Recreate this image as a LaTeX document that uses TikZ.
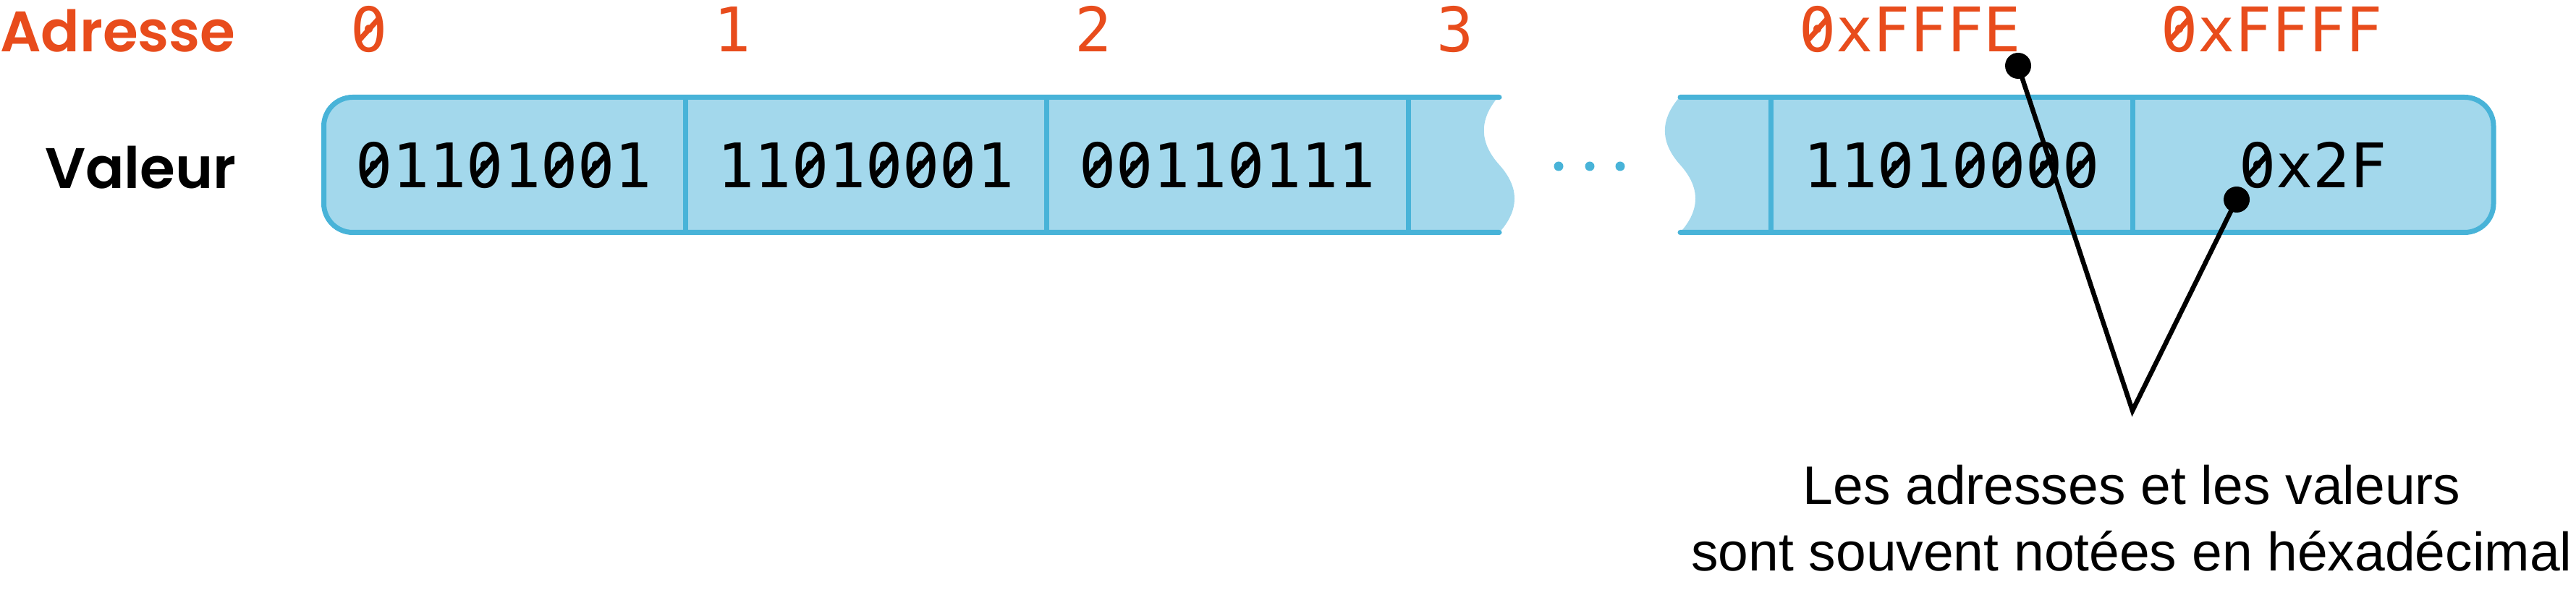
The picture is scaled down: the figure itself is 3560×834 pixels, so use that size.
\documentclass[tikz,border=0pt]{standalone}
\usepackage{graphicx}
\usepackage{fontspec}
\setmainfont{Liberation Sans}
\newfontfamily\popfont{Poppins SemiBold}
\newfontfamily\monofont{DejaVu Sans Mono}
\definecolor{orng}{RGB}{232,76,28}
\definecolor{cellfill}{RGB}{163,216,236}
\definecolor{cellline}{RGB}{72,179,216}
% slashed zero
\newcommand\zs{\ooalign{0\cr\hidewidth\raisebox{0.15em}{\rotatebox{48}{\rule{0.5em}{0.085em}}}\hidewidth\cr}}
\begin{document}
\begin{tikzpicture}[x=0.2pt,y=-0.2pt,
  addr/.style={anchor=base west, inner sep=0pt, text=orng, font=\monofont\fontsize{17}{20}\selectfont},
  val/.style={anchor=base, inner sep=0pt, font=\monofont\fontsize{17}{20}\selectfont},
  head/.style={anchor=base west, inner sep=0pt, font=\popfont\fontsize{15.8}{19}\selectfont},
  cellstroke/.style={draw=cellline, line width=1.4pt, line cap=round},
  dotnode/.style={circle, fill=black, inner sep=0pt, minimum size=7.2pt},
  leader/.style={draw=black, line width=1.3pt},
  caption/.style={anchor=base, inner sep=0pt, font=\fontsize{15}{18}\selectfont},
  ellip/.style={circle, fill=cellline, inner sep=0pt, minimum size=2.6pt}]
\useasboundingbox (0,0) rectangle (3560,834);
% left piece fill
\fill[cellfill] (2070,134.5) -- (487.5,134.5) .. controls (465.4,134.5) and (447.5,152.4) .. (447.5,174.5)
  -- (447.5,281.5) .. controls (447.5,303.6) and (465.4,321.5) .. (487.5,321.5) -- (2072,321.5)
  .. controls (2100,290.3) and (2100,259.2) .. (2072,228)
  .. controls (2044,196.8) and (2044,165.7) .. (2070,134.5) -- cycle;
% right piece fill
\fill[cellfill] (2321,134.5) -- (3406,134.5) .. controls (3428.1,134.5) and (3446,152.4) .. (3446,174.5)
  -- (3446,281.5) .. controls (3446,303.6) and (3428.1,321.5) .. (3406,321.5) -- (2322,321.5)
  .. controls (2350,290.3) and (2350,259.2) .. (2322,228)
  .. controls (2294,196.8) and (2294,165.7) .. (2321,134.5) -- cycle;
% strokes
\draw[cellstroke] (2072,134.5) -- (487.5,134.5) .. controls (465.4,134.5) and (447.5,152.4) .. (447.5,174.5)
  -- (447.5,281.5) .. controls (447.5,303.6) and (465.4,321.5) .. (487.5,321.5) -- (2072,321.5);
\draw[cellstroke] (2322,134.5) -- (3406,134.5) .. controls (3428.1,134.5) and (3446,152.4) .. (3446,174.5)
  -- (3446,281.5) .. controls (3446,303.6) and (3428.1,321.5) .. (3406,321.5) -- (2322,321.5);
\foreach \xx in {947,1446,1946,2447,2947}
  \draw[cellstroke, line cap=butt] (\xx,134.5) -- (\xx,321.5);
% ellipsis dots
\node[ellip] (e1) at (2154,230) {};
\node[ellip] (e2) at (2197,230) {};
\node[ellip] (e3) at (2239,230) {};
% headers
\node[head, text=orng] (adr) at (-1,72) {Adresse};
\node[head] (val) at (61,261) {Valeur};
% addresses
\node[addr] (a0) at (483,72) {\zs};
\node[addr] (a1) at (985,72) {1};
\node[addr] (a2) at (1484,72) {2};
\node[addr] (a3) at (1984,72) {3};
\node[addr] (afe) at (2485,72) {\zs xFFFE};
\node[addr] (aff) at (2985,72) {\zs xFFFF};
% values
\node[val] (v0) at (696,260) {\zs11\zs1\zs\zs1};
\node[val] (v1) at (1196.5,260) {11\zs1\zs\zs\zs1};
\node[val] (v2) at (1696,260) {\zs\zs11\zs111};
\node[val] (vfe) at (2697,260) {11\zs1\zs\zs\zs\zs};
\node[val] (vff) at (3196.5,260) {\zs x2F};
% leaders
\node[dotnode] (d1) at (2789,91) {};
\node[dotnode] (d2) at (3091,276) {};
\coordinate (apex) at (2947,568);
\draw[leader] (d1.center) -- (apex) -- (d2.center);
% caption
\node[caption] (cap1) at (2946,698) {Les adresses et les valeurs};
\node[caption] (cap2) at (2946,790) {sont souvent notées en héxadécimal};
\end{tikzpicture}
\end{document}
